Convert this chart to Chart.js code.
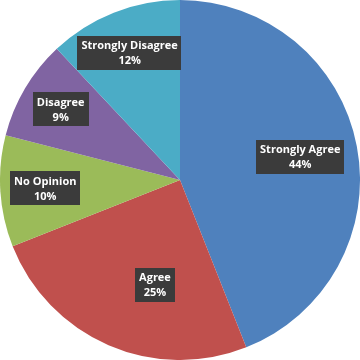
<!DOCTYPE html>
<html>
<head>
<meta charset="utf-8">
<script src="https://cdn.jsdelivr.net/npm/chart.js@4/dist/chart.umd.min.js"></script>
<style>
  html, body { margin: 0; padding: 0; background: #fff; }
  #box { width: 360px; height: 360px; }
</style>
</head>
<body>
<div id="box"><canvas id="pie"></canvas></div>
<script>
// data
const categories = ["Strongly Agree", "Agree", "No Opinion", "Disagree", "Strongly Disagree"];
const percents = [44, 25, 10, 9, 12];
const sliceColors = ["#4f81bd", "#c0504d", "#9bbb59", "#8064a2", "#4bacc6"];

// draw the dark label boxes like excel does
const boxLabels = {
  id: "boxLabels",
  afterDatasetsDraw(chart, args, opts) {
    const ctx = chart.ctx;
    const meta = chart.getDatasetMeta(0);
    ctx.save();
    ctx.font = "bold 11px 'Open Sans', sans-serif";
    ctx.textAlign = "center";
    ctx.textBaseline = "middle";
    meta.data.forEach((arc, i) => {
      const p = arc.getProps(["x", "y", "startAngle", "endAngle", "outerRadius"], true);
      const shift = (opts.angleShift[i] || 0) * Math.PI / 180;
      const mid = (p.startAngle + p.endAngle) / 2 + shift;
      const r = p.outerRadius * opts.radius[i];
      const cx = p.x + Math.cos(mid) * r;
      const cy = p.y + Math.sin(mid) * r;
      const lines = [chart.data.labels[i], percents[i] + "%"];
      let w = 0;
      lines.forEach((t) => { w = Math.max(w, ctx.measureText(t).width); });
      w += 8;
      const h = 34;
      ctx.fillStyle = "#3b3b3b";
      ctx.fillRect(Math.round(cx - w / 2), Math.round(cy - h / 2), Math.round(w), h);
      ctx.fillStyle = "#ffffff";
      ctx.fillText(lines[0], cx, cy - 7);
      ctx.fillText(lines[1], cx, cy + 8);
    });
    ctx.restore();
  }
};

new Chart(document.getElementById("pie"), {
  type: "pie",
  data: {
    labels: categories,
    datasets: [{
      data: percents,
      backgroundColor: sliceColors,
      borderWidth: 0,
    }],
  },
  options: {
    responsive: true,
    maintainAspectRatio: false,
    animation: false,
    layout: { padding: 0 },
    plugins: {
      legend: { display: false },
      tooltip: { enabled: false },
      boxLabels: {
        radius: [0.68, 0.6, 0.75, 0.77, 0.76],
        angleShift: [0, -10, 0, 0, 0],
      },
    },
  },
  plugins: [boxLabels],
});
</script>
</body>
</html>
